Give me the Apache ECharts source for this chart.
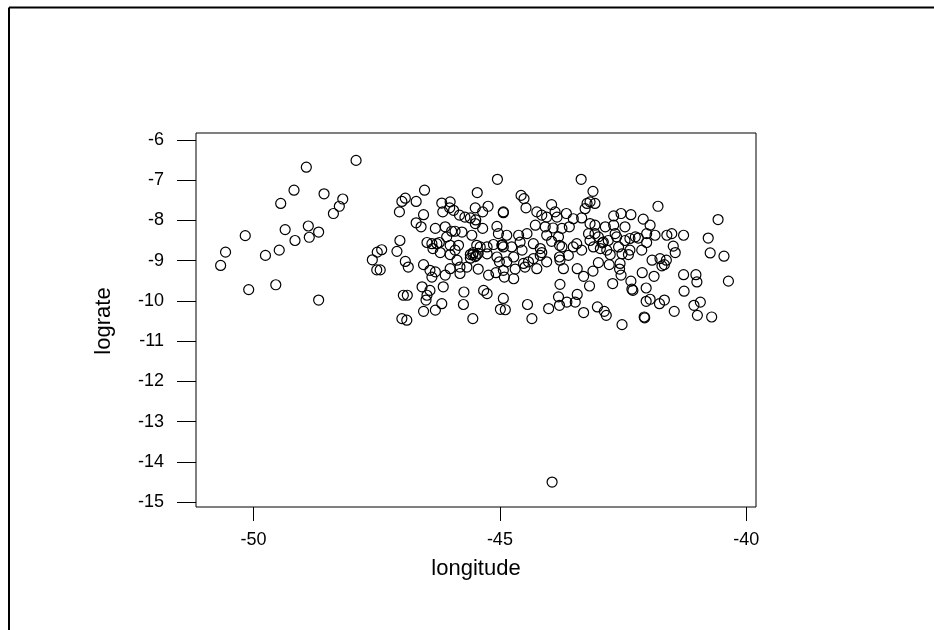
<!DOCTYPE html>
<html>
<head>
<meta charset="utf-8">
<script src="https://cdn.jsdelivr.net/npm/echarts@6/dist/echarts.min.js"></script>
<style>
  html, body { margin: 0; padding: 0; background: #fff; }
  #main { width: 934px; height: 630px; }
</style>
</head>
<body>
<div id="main"></div>
<script>
// points, split by region (longitude / lograte pairs)
const westLon = [-47.92,-48.93,-49.18,-48.57,-49.45,-48.19,-48.26,-48.38,-50.17,-49.36,
  -48.89,-49.16,-48.87,-48.68,-50.57,-50.67,-49.76,-49.48,-50.10,-49.55,
  -48.68,-47.59,-47.49,-47.40,-47.50,-47.43];
const westRate = [-6.51,-6.68,-7.25,-7.34,-7.58,-7.47,-7.65,-7.83,-8.38,-8.23,
  -8.14,-8.50,-8.42,-8.29,-8.79,-9.12,-8.87,-8.74,-9.72,-9.60,
  -9.98,-8.98,-8.79,-8.73,-9.23,-9.23];

const centralLon = [-45.05,-46.53,-45.46,-46.92,-46.99,-46.70,-47.04,-44.57,-44.51,-44.47,
  -43.95,-46.18,-46.01,-46.16,-46.02,-45.94,-45.82,-45.71,-45.60,-45.49,
  -45.50,-45.35,-45.24,-44.93,-44.93,-46.55,-46.70,-46.60,-46.31,-46.11,
  -45.98,-45.91,-45.77,-45.50,-45.35,-45.06,-45.03,-44.86,-44.62,-44.45,
  -44.25,-44.15,-44.05,-43.88,-43.84,-43.65,-43.51,-44.28,-44.08,-43.92,
  -43.74,-43.59,-47.03,-46.48,-46.38,-46.28,-46.23,-46.08,-46.01,-45.84,
  -45.57,-45.47,-45.40,-45.26,-45.13,-44.96,-44.93,-44.76,-44.59,-44.55,
  -44.32,-44.18,-44.05,-43.95,-43.81,-43.74,-43.79,-43.51,-47.09,-46.92,
  -46.86,-46.55,-46.36,-46.21,-46.01,-45.91,-45.87,-45.60,-45.54,-45.48,
  -45.60,-45.44,-45.26,-45.06,-45.01,-44.86,-44.72,-44.52,-44.42,-44.32,
  -44.18,-44.15,-44.05,-43.79,-43.78,-43.61,-46.42,-46.31,-46.38,-46.11,
  -46.01,-45.81,-45.67,-45.44,-45.23,-45.08,-44.93,-44.91,-44.72,-44.69,
  -44.49,-44.25,-43.71,-45.81,-46.58,-46.42,-46.15,-46.48,-46.50,-46.96,
  -46.88,-45.73,-45.33,-45.26,-44.93,-43.78,-43.81,-43.64,-43.47,-46.55,
  -46.31,-46.18,-45.74,-44.99,-44.89,-44.44,-44.01,-43.79,-46.99,-46.89,
  -45.55,-44.35,-45.55,-45.50,-44.95];
const centralRate = [-6.98,-7.25,-7.31,-7.45,-7.53,-7.53,-7.79,-7.38,-7.46,-7.69,
  -7.61,-7.57,-7.54,-7.79,-7.69,-7.75,-7.87,-7.92,-7.94,-7.99,
  -7.69,-7.79,-7.65,-7.79,-7.81,-7.86,-8.06,-8.16,-8.20,-8.16,
  -8.27,-8.27,-8.29,-8.08,-8.20,-8.15,-8.33,-8.37,-8.37,-8.33,
  -7.79,-7.87,-7.92,-7.79,-7.92,-7.83,-7.96,-8.12,-8.16,-8.19,
  -8.20,-8.16,-8.50,-8.55,-8.58,-8.58,-8.55,-8.41,-8.62,-8.62,
  -8.37,-8.62,-8.66,-8.66,-8.60,-8.62,-8.66,-8.66,-8.54,-8.74,
  -8.58,-8.70,-8.37,-8.52,-8.41,-8.66,-8.62,-8.66,-8.77,-9.02,
  -9.16,-9.10,-8.70,-8.80,-8.85,-8.74,-8.99,-8.85,-8.80,-8.87,
  -8.94,-8.82,-8.83,-8.91,-9.03,-9.03,-8.91,-9.07,-9.03,-8.95,
  -8.87,-8.80,-9.03,-8.91,-8.99,-8.87,-9.24,-9.28,-9.41,-9.36,
  -9.20,-9.16,-9.16,-9.21,-9.36,-9.30,-9.24,-9.41,-9.45,-9.21,
  -9.16,-9.20,-9.20,-9.32,-9.65,-9.74,-9.65,-9.86,-9.98,-9.86,
  -9.86,-9.78,-9.74,-9.82,-9.94,-9.59,-9.90,-10.03,-10.03,-10.26,
  -10.23,-10.07,-10.09,-10.21,-10.22,-10.09,-10.19,-10.11,-10.44,-10.48,
  -10.44,-10.44,-8.85,-8.90,-8.60];

const eastLon = [-43.35,-43.11,-41.79,-40.57,-43.23,-43.17,-43.07,-43.27,-43.34,-42.69,
  -42.54,-42.34,-42.09,-41.95,-43.17,-43.07,-42.86,-42.69,-42.46,-43.20,
  -43.07,-43.00,-43.17,-42.90,-42.80,-42.66,-42.63,-42.46,-42.36,-42.25,
  -42.19,-42.02,-41.85,-41.61,-41.51,-41.27,-40.77,-42.02,-41.48,-41.44,
  -40.73,-40.45,-43.44,-43.34,-43.10,-42.96,-42.83,-42.76,-42.59,-42.52,
  -42.39,-42.36,-42.12,-43.00,-42.78,-42.56,-41.91,-41.75,-41.62,-41.71,
  -41.66,-43.43,-43.11,-43.30,-42.57,-42.54,-42.11,-41.87,-41.27,-41.02,
  -41.00,-40.36,-43.18,-42.71,-42.34,-42.32,-42.30,-42.03,-41.26,-43.43,
  -43.30,-43.02,-42.88,-42.84,-42.52,-42.03,-41.95,-41.76,-41.66,-41.46,
  -41.06,-40.93,-40.99,-40.70,-42.07,-42.06,-43.94,-42.92];
const eastRate = [-6.98,-7.28,-7.65,-7.98,-7.58,-7.54,-7.58,-7.71,-7.94,-7.89,
  -7.83,-7.86,-7.97,-8.12,-8.08,-8.12,-8.16,-8.12,-8.16,-8.33,
  -8.33,-8.41,-8.50,-8.54,-8.50,-8.33,-8.41,-8.50,-8.45,-8.41,
  -8.44,-8.33,-8.37,-8.37,-8.33,-8.37,-8.44,-8.55,-8.64,-8.80,
  -8.81,-8.89,-8.58,-8.74,-8.66,-8.70,-8.74,-8.85,-8.66,-8.83,
  -8.85,-8.74,-8.74,-9.05,-9.10,-9.07,-8.99,-8.95,-8.99,-9.13,
  -9.10,-9.20,-9.26,-9.39,-9.21,-9.36,-9.30,-9.39,-9.35,-9.35,
  -9.53,-9.51,-9.63,-9.57,-9.51,-9.71,-9.74,-9.68,-9.76,-9.84,
  -10.29,-10.15,-10.26,-10.36,-10.59,-10.01,-9.96,-10.07,-9.98,-10.26,
  -10.11,-10.03,-10.36,-10.40,-10.40,-10.42,-14.50,-8.56];

const xTicks = [-50, -45, -40];
const yTicks = [-15, -14, -13, -12, -11, -10, -9, -8, -7, -6];

const lon = westLon.concat(centralLon, eastLon);
const rate = westRate.concat(centralRate, eastRate);
const points = lon.map((x, i) => [x, rate[i]]);

const font = '"Liberation Sans", Arial, sans-serif';

var myChart = echarts.init(document.getElementById('main'));
var option = {
  backgroundColor: '#fff',
  animation: false,
  grid: {
    left: 196, top: 133, width: 560, height: 374,
    show: true, borderColor: '#000', borderWidth: 1, backgroundColor: 'transparent'
  },
  xAxis: {
    type: 'value',
    min: -51.17, max: -39.80,
    axisLine: { show: false },
    splitLine: { show: false },
    axisTick: { show: true, length: 14, customValues: xTicks, lineStyle: { color: '#000', width: 1 } },
    axisLabel: { customValues: xTicks, margin: 24, fontSize: 18, color: '#000', fontFamily: font }
  },
  yAxis: {
    type: 'value',
    min: -15.12, max: -5.83,
    axisLine: { show: false },
    splitLine: { show: false },
    axisTick: { show: true, length: 19, customValues: yTicks, lineStyle: { color: '#000', width: 1 } },
    axisLabel: { customValues: yTicks, margin: 32, fontSize: 18, color: '#000', fontFamily: font }
  },
  graphic: [
    { type: 'line', shape: { x1: 9, y1: 7.5, x2: 934, y2: 7.5 }, style: { stroke: '#000', lineWidth: 2 } },
    { type: 'line', shape: { x1: 9, y1: 7.5, x2: 9, y2: 630 }, style: { stroke: '#000', lineWidth: 2 } },
    { type: 'text', x: 476, y: 569,
      style: { text: 'longitude', textAlign: 'center', textVerticalAlign: 'middle', fontSize: 22, fontFamily: font, fill: '#000' } },
    { type: 'text', x: 104, y: 321, rotation: Math.PI / 2,
      style: { text: 'lograte', textAlign: 'center', textVerticalAlign: 'middle', fontSize: 22, fontFamily: font, fill: '#000' } }
  ],
  series: [{
    type: 'scatter',
    data: points,
    symbol: 'circle',
    symbolSize: 10,
    itemStyle: { color: 'rgba(0,0,0,0)', borderColor: '#000', borderWidth: 1.2, opacity: 1 },
    emphasis: { disabled: true }
  }]
};
myChart.setOption(option);
</script>
</body>
</html>
